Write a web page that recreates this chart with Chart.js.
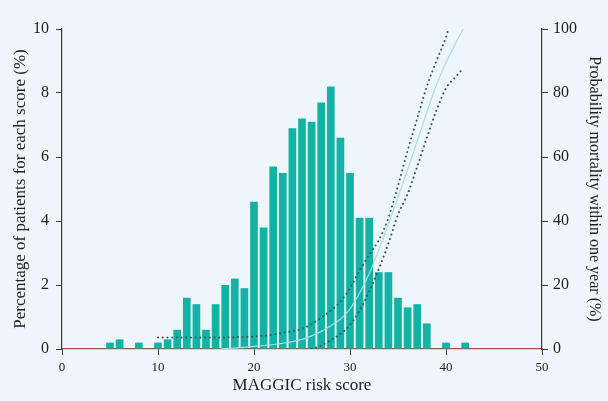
<!DOCTYPE html>
<html>
<head>
<meta charset="utf-8">
<script src="https://cdn.jsdelivr.net/npm/chart.js@4"></script>
<style>
  html, body { margin: 0; padding: 0; background: #eef6fb; }
  #wrap { width: 608px; height: 401px; position: relative; }
</style>
</head>
<body>
<div id="wrap"><canvas id="maggicChart"></canvas></div>
<script>
// histogram: share of patients per MAGGIC score
const scores   = [5, 6, 8, 10, 11, 12, 13, 14, 15, 16, 17, 18, 19, 20, 21, 22, 23, 24, 25, 26, 27, 28, 29, 30, 31, 32, 33, 34, 35, 36, 37, 38, 40, 42];
const percents = [0.2, 0.3, 0.2, 0.2, 0.3, 0.6, 1.6, 1.4, 0.6, 1.4, 2.0, 2.2, 1.9, 4.6, 3.8, 5.7, 5.5, 6.9, 7.2, 7.1, 7.7, 8.2, 6.6, 5.5, 4.1, 4.1, 2.4, 2.4, 1.6, 1.3, 1.4, 0.8, 0.2, 0.2];

// predicted one-year mortality and its confidence band
const fitX  = [16.5, 18, 20, 22, 23, 24, 25, 26, 27, 28, 29, 30, 31, 32, 33, 34, 35, 36, 37, 38, 39, 40, 41, 41.8];
const fitY  = [0, 0.3, 0.8, 1.4, 1.8, 2.3, 3.0, 4.1, 5.5, 7.3, 9.3, 12.5, 17.5, 23.5, 31, 39, 47.5, 56, 65, 74, 82.5, 89.5, 95.5, 100];
const upperX = [10, 12, 14, 16, 18, 20, 22, 23, 24, 25, 26, 27, 28, 29, 30, 31, 32, 33, 34, 35, 36, 37, 38, 39, 40, 40.2];
const upperY = [3.6, 3.6, 3.6, 3.6, 3.7, 3.9, 4.5, 5.1, 5.6, 6.3, 7.8, 9.8, 12, 14.8, 19, 24.5, 29.5, 34, 41, 51, 62, 72, 82, 90, 97.5, 99.5];
const lowerX = [26, 27, 28, 29, 30, 31, 32, 33, 34, 35, 36, 37, 38, 39, 40, 41, 41.7];
const lowerY = [0, 1, 2.8, 4.7, 7.5, 12, 18, 25, 33, 42, 48.5, 57, 66, 74.5, 81.5, 85, 87.4];

const xTicks = [0, 10, 20, 30, 40, 50];

function pts(xs, ys) {
    return xs.map((x, i) => ({x: x, y: ys[i]}));
}

const serif = '"Liberation Serif", "Times New Roman", serif';
const ink = '#222';
const axisDark = '#3a3a3a';

const bgPlugin = {
    id: 'bg',
    beforeDraw(chart) {
        const c = chart.ctx;
        c.save();
        c.fillStyle = '#eef6fb';
        c.fillRect(0, 0, chart.width, chart.height);
        c.restore();
    }
};

const ctx = document.getElementById('maggicChart').getContext('2d');
new Chart(ctx, {
    type: 'bar',
    data: {
        datasets: [
            {
                type: 'line',
                data: pts(upperX, upperY),
                yAxisID: 'y2',
                borderColor: '#2e5b5e',
                borderWidth: 2,
                borderDash: [0.1, 4.6],
                borderCapStyle: 'round',
                pointRadius: 0,
                cubicInterpolationMode: 'monotone',
                fill: false,
                order: 0
            },
            {
                type: 'line',
                data: pts(lowerX, lowerY),
                yAxisID: 'y2',
                borderColor: '#2e5b5e',
                borderWidth: 2,
                borderDash: [0.1, 4.6],
                borderCapStyle: 'round',
                pointRadius: 0,
                cubicInterpolationMode: 'monotone',
                fill: false,
                order: 0
            },
            {
                type: 'line',
                data: pts(fitX, fitY),
                yAxisID: 'y2',
                borderColor: '#a9dcee',
                borderWidth: 1.2,
                pointRadius: 0,
                cubicInterpolationMode: 'monotone',
                fill: false,
                order: 0
            },
            {
                type: 'bar',
                data: pts(scores, percents),
                yAxisID: 'y',
                backgroundColor: '#14b1a5',
                barPercentage: 0.8,
                categoryPercentage: 1.0,
                order: 1
            }
        ]
    },
    options: {
        responsive: true,
        maintainAspectRatio: false,
        animation: false,
        layout: { padding: { top: 29 } },
        plugins: {
            legend: { display: false },
            tooltip: { enabled: false }
        },
        scales: {
            x: {
                type: 'linear',
                min: 0,
                max: 50,
                offset: false,
                afterFit(s) { s.height = 52; },
                afterBuildTicks(s) { s.ticks = xTicks.map(v => ({value: v})); },
                border: { display: true, color: '#9a5646', width: 1.2 },
                grid: { offset: false, drawOnChartArea: false, color: axisDark, tickLength: 6 },
                ticks: { color: ink, font: { family: serif, size: 13 }, padding: 5, maxRotation: 0 },
                title: {
                    display: true,
                    text: 'MAGGIC risk score',
                    color: ink,
                    font: { family: serif, size: 17 },
                    padding: { top: 0, bottom: 5 }
                }
            },
            y: {
                position: 'left',
                min: 0,
                max: 10,
                afterFit(s) { s.width = 62; },
                border: { display: true, color: axisDark, width: 1.2 },
                grid: { drawOnChartArea: false, color: axisDark, tickLength: 6 },
                ticks: { stepSize: 2, color: ink, font: { family: serif, size: 16 }, padding: 7 },
                title: {
                    display: true,
                    text: 'Percentage of patients for each score (%)',
                    color: ink,
                    font: { family: serif, size: 17 },
                    padding: { top: 10, bottom: 0 }
                }
            },
            y2: {
                position: 'right',
                min: 0,
                max: 100,
                afterFit(s) { s.width = 66; },
                border: { display: true, color: axisDark, width: 1.2 },
                grid: { drawOnChartArea: false, color: axisDark, tickLength: 6 },
                ticks: { stepSize: 20, color: ink, font: { family: serif, size: 16 }, padding: 5 },
                title: {
                    display: true,
                    text: 'Probability mortality within one year (%)',
                    color: ink,
                    font: { family: serif, size: 16 },
                    padding: { top: 4, bottom: 0 }
                }
            }
        }
    },
    plugins: [bgPlugin]
});
</script>
</body>
</html>
